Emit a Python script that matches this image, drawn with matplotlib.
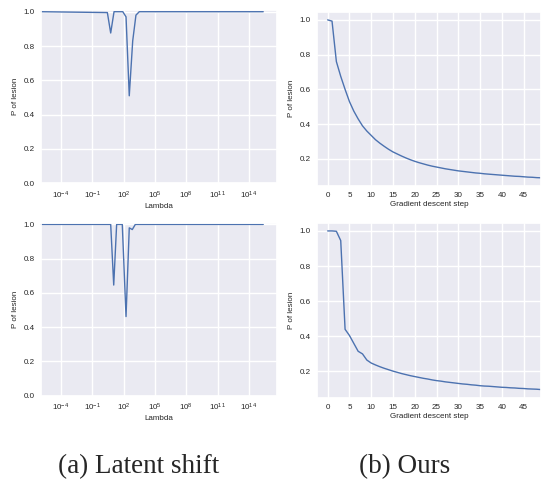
import numpy as np
import matplotlib
matplotlib.use("Agg")
import matplotlib.pyplot as plt
import seaborn as sns

sns.set_theme(style="darkgrid")
plt.rcParams['font.family'] = ['Liberation Sans', 'DejaVu Sans']

# -------------------------------------------------------------
# Data
# -------------------------------------------------------------
# latent shift: log10(lambda) break points and P of lesion
lam_exp_top = [-5.92, 0.44, 0.76, 1.08, 1.92, 2.23, 2.54, 2.87, 3.18, 3.50, 15.38]
p_top       = [1.0, 0.995, 0.876, 1.0, 1.0, 0.97, 0.51, 0.83, 0.98, 1.0, 1.0]

lam_exp_bot = [-5.92, 0.76, 1.05, 1.33, 1.87, 2.23, 2.54, 2.83, 3.12, 15.38]
p_bot       = [1.0, 1.0, 0.646, 1.0, 1.0, 0.462, 0.98, 0.97, 1.0, 1.0]

# ours: gradient descent steps
steps = np.arange(50)
p_ours_top = [1.0, 0.993, 0.76, 0.675, 0.60, 0.53, 0.475, 0.43, 0.39, 0.36,
              0.335, 0.31, 0.29, 0.272, 0.255, 0.24, 0.228, 0.216, 0.205, 0.195,
              0.186, 0.178, 0.171, 0.164, 0.158, 0.153, 0.148, 0.143, 0.139, 0.135,
              0.131, 0.128, 0.125, 0.122, 0.119, 0.117, 0.114, 0.112, 0.110, 0.108,
              0.106, 0.104, 0.102, 0.100, 0.099, 0.097, 0.095, 0.094, 0.092, 0.091]
p_ours_bot = [1.0, 1.0, 0.998, 0.945, 0.44, 0.405, 0.36, 0.315, 0.30, 0.265,
              0.248, 0.237, 0.227, 0.218, 0.21, 0.202, 0.195, 0.188, 0.182, 0.176,
              0.171, 0.166, 0.161, 0.157, 0.152, 0.148, 0.145, 0.141, 0.138, 0.135,
              0.132, 0.129, 0.127, 0.124, 0.122, 0.119, 0.117, 0.116, 0.114, 0.112,
              0.110, 0.109, 0.107, 0.106, 0.104, 0.103, 0.101, 0.100, 0.099, 0.097]

log_ticks = [1e-4, 1e-1, 1e2, 1e5, 1e8, 1e11, 1e14]

W, H = 542, 484
fig = plt.figure(figsize=(W / 100, H / 100), dpi=100)

def box(l, t, r, b):
    return [l / W, 1 - b / H, (r - l) / W, (b - t) / H]

color = '#4C72B0'
fs = 5.8

def style(ax, xlabel):
    ax.set_xlabel(xlabel, fontsize=fs, labelpad=1.5)
    ax.set_ylabel('P of lesion', fontsize=fs, labelpad=3.5)
    ax.tick_params(labelsize=fs, length=0, pad=4.6)

# -------------------------------------------------------------
# Latent shift panels
# -------------------------------------------------------------
for (l, t, r, b), ex, p in [((41, 10, 277, 183.3), lam_exp_top, p_top),
                            ((41, 222.7, 277, 395.7), lam_exp_bot, p_bot)]:
    ax = fig.add_axes(box(l, t, r, b))
    ax.plot(10.0 ** np.array(ex), p, color=color, lw=1.0, clip_on=False)
    ax.set_xscale('log')
    ax.set_xlim(10 ** -5.92, 10 ** 16.7)
    ax.set_ylim(0, 1.01)
    ax.set_xticks(log_ticks)
    ax.minorticks_off()
    ax.set_yticks([0.0, 0.2, 0.4, 0.6, 0.8, 1.0])
    style(ax, 'Lambda')

# -------------------------------------------------------------
# Ours panels
# -------------------------------------------------------------
for (l, t, r, b), p in [((317, 12, 541, 185.7), p_ours_top),
                        ((317, 223, 541, 397.5), p_ours_bot)]:
    ax = fig.add_axes(box(l, t, r, b))
    ax.plot(steps, p, color=color, lw=1.0)
    ax.set_xlim(-2.45, 49)
    ax.set_xticks(np.arange(0, 50, 5))
    ax.set_yticks([0.2, 0.4, 0.6, 0.8, 1.0])
    style(ax, 'Gradient descent step')

# captions
fig.text(138.5 / W, 1 - 467 / H, '(a) Latent shift', ha='center', va='center',
         fontsize=19.5, family='Liberation Serif')
fig.text(405 / W, 1 - 467 / H, '(b) Ours', ha='center', va='center',
         fontsize=19.5, family='Liberation Serif')

fig.savefig('out.png', dpi=100)
